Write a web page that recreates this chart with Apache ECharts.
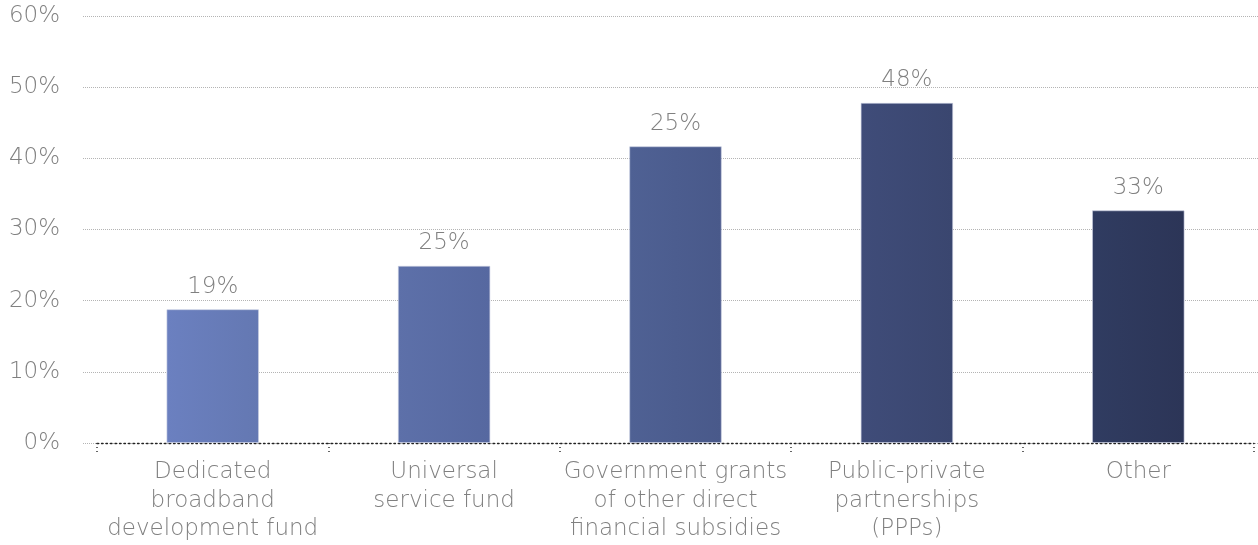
<!DOCTYPE html>
<html>
<head>
<meta charset="utf-8">
<script src="https://cdn.jsdelivr.net/npm/echarts@6/dist/echarts.min.js"></script>
<style>
html,body{margin:0;padding:0;background:#fff;}
#chart{width:1258px;height:545px;}
</style>
</head>
<body>
<div id="chart"></div>
<script>
const categories = [
  "Dedicated\nbroadband\ndevelopment fund",
  "Universal\nservice fund",
  "Government grants\nof other direct\nfinancial subsidies",
  "Public-private\npartnerships\n(PPPs)",
  "Other"
];
const barValues = [18.8, 24.9, 41.7, 47.8, 32.7];
const valueLabels = ["19%", "25%", "25%", "48%", "33%"];
const yTicks = [0, 10, 20, 30, 40, 50, 60];
const barColors = [
  ["#6b80c0", "#6478b2"],
  ["#5d70a9", "#5668a0"],
  ["#4f6194", "#49598a"],
  ["#3f4c79", "#3a466f"],
  ["#303c61", "#2c3557"]
];

const FONT = "DejaVu Sans";
const WEIGHT = 200;
const GREY = "#808080";

const chart = echarts.init(document.getElementById('chart'), null, {renderer: 'canvas'});
chart.setOption({
  animation: false,
  backgroundColor: '#fff',
  grid: [
    {left: 83, right: 0, top: 16, bottom: 102},
    {left: 97, right: 4, top: 16, bottom: 102}
  ],
  xAxis: [
    {type: 'value', gridIndex: 0, show: false, min: 0, max: 1},
    {
      type: 'category', gridIndex: 1, data: categories,
      axisLine: {show: true, lineStyle: {color: '#222', type: [1.5, 3], width: 1.3}},
      axisTick: {show: true, interval: 0, length: 11, lineStyle: {color: '#333', type: [1, 3], width: 1.5}},
      axisLabel: {interval: 0, color: GREY, fontFamily: FONT, fontWeight: WEIGHT, fontSize: 23, lineHeight: 28.5, margin: 15}
    }
  ],
  yAxis: [
    {
      type: 'value', gridIndex: 0, min: yTicks[0], max: yTicks[yTicks.length - 1], interval: 10,
      axisLine: {show: false}, axisTick: {show: false},
      axisLabel: {formatter: '{value}%', color: GREY, fontFamily: FONT, fontWeight: WEIGHT, fontSize: 23, margin: 23},
      splitLine: {show: true, lineStyle: {color: '#b4b4b4', type: [1, 1], width: 1}}
    },
    {
      type: 'value', gridIndex: 1, min: yTicks[0], max: yTicks[yTicks.length - 1], interval: 10,
      show: false, splitLine: {show: false}
    }
  ],
  series: [{
    type: 'bar',
    xAxisIndex: 1, yAxisIndex: 1,
    barWidth: '40%',
    data: barValues.map((v, i) => ({
      value: v,
      itemStyle: {
        color: new echarts.graphic.LinearGradient(0, 0, 1, 0, [
          {offset: 0, color: barColors[i][0]},
          {offset: 1, color: barColors[i][1]}
        ]),
        borderColor: 'rgba(200,205,225,0.6)',
        borderWidth: 1
      }
    })),
    label: {
      show: true, position: 'top', distance: 11,
      formatter: p => valueLabels[p.dataIndex],
      color: GREY, fontFamily: FONT, fontWeight: WEIGHT, fontSize: 23
    }
  }]
});
</script>
</body>
</html>
